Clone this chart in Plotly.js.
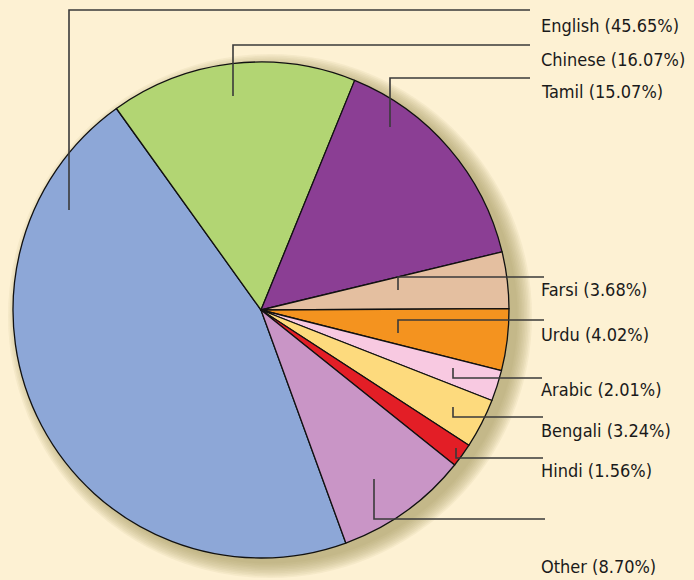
<!DOCTYPE html>
<html>
<head>
<meta charset="utf-8">
<script src="https://cdn.plot.ly/plotly-3.0.1.min.js"></script>
<style>html,body{margin:0;padding:0;background:#FDF1D3;}</style>
</head>
<body>
<div id="chart" style="width:694px;height:580px;"></div>
<script>
// ---- data ----
const languages = ["English", "Chinese", "Tamil", "Farsi", "Urdu", "Arabic", "Bengali", "Hindi", "Other"];
const shares = [45.65, 16.07, 15.07, 3.68, 4.02, 2.01, 3.24, 1.56, 8.70];
const sliceColors = ["#8DA7D7", "#B2D573", "#8B3E94", "#E4BFA0", "#F4931F", "#F8C9E1", "#FDDA7D", "#E31E26", "#C995C6"];

// ---- layout helpers (pixel -> paper) ----
const W = 694, H = 580;
const px = x => x / W;
const py = y => 1 - y / H;

// pie geometry
const cx = 261, cy = 310, R = 248;

// label leader geometry: [elbow start x, start y, horizontal y, line end x, label y]
const leaders = [
  [69, 210, 10, 530, 25],
  [233, 96, 45, 530, 59.5],
  [390, 127, 78, 530, 91],
  [398, 290, 277, 544, 289],
  [398, 333, 320, 544, 334],
  [453, 368, 378, 542, 389],
  [453, 407, 417, 543, 430],
  [456, 448, 458, 543, 470],
  [374, 479, 519, 545, 566]
];

const shapes = [];
// soft shadow behind the pie
const shadowSteps = 10;
for (let i = 0; i < shadowSteps; i++) {
  const r = R + 14 - i * 1.6;
  const ox = cx + 9, oy = cy + 6;
  shapes.push({
    type: "circle", xref: "paper", yref: "paper", layer: "below",
    x0: px(ox - r), x1: px(ox + r), y0: py(oy + r), y1: py(oy - r),
    fillcolor: "rgba(165,145,95,0.085)", line: {width: 0}
  });
}
leaders.forEach(l => {
  shapes.push({
    type: "path", xref: "paper", yref: "paper", layer: "above",
    path: `M ${px(l[0])} ${py(l[1])} L ${px(l[0])} ${py(l[2])} L ${px(l[3])} ${py(l[2])}`,
    line: {color: "#3a3a3a", width: 1.6}
  });
});

const annotations = languages.map((name, i) => ({
  xref: "paper", yref: "paper",
  x: px(539), y: py(leaders[i][4]),
  xanchor: "left", yanchor: "middle",
  showarrow: false,
  text: `${name} (${shares[i].toFixed(2)}%)`,
  font: {family: "'Liberation Sans Narrow', 'Arial Narrow', 'DejaVu Sans Condensed', sans-serif", size: 18, color: "#1a1a1a"}
}));

const trace = {
  type: "pie",
  labels: languages,
  values: shares,
  sort: false,
  direction: "clockwise",
  rotation: 160,
  textinfo: "none",
  hoverinfo: "label+percent",
  marker: {colors: sliceColors, line: {color: "#111", width: 1.3}},
  domain: {x: [px(cx - R), px(cx + R)], y: [py(cy + R), py(cy - R)]},
  showlegend: false
};

const layout = {
  width: W, height: H,
  margin: {l: 0, r: 0, t: 0, b: 0},
  paper_bgcolor: "#FDF1D3",
  plot_bgcolor: "#FDF1D3",
  showlegend: false,
  shapes: shapes,
  annotations: annotations
};

Plotly.newPlot("chart", [trace], layout, {displayModeBar: false, staticPlot: true});
</script>
</body>
</html>
